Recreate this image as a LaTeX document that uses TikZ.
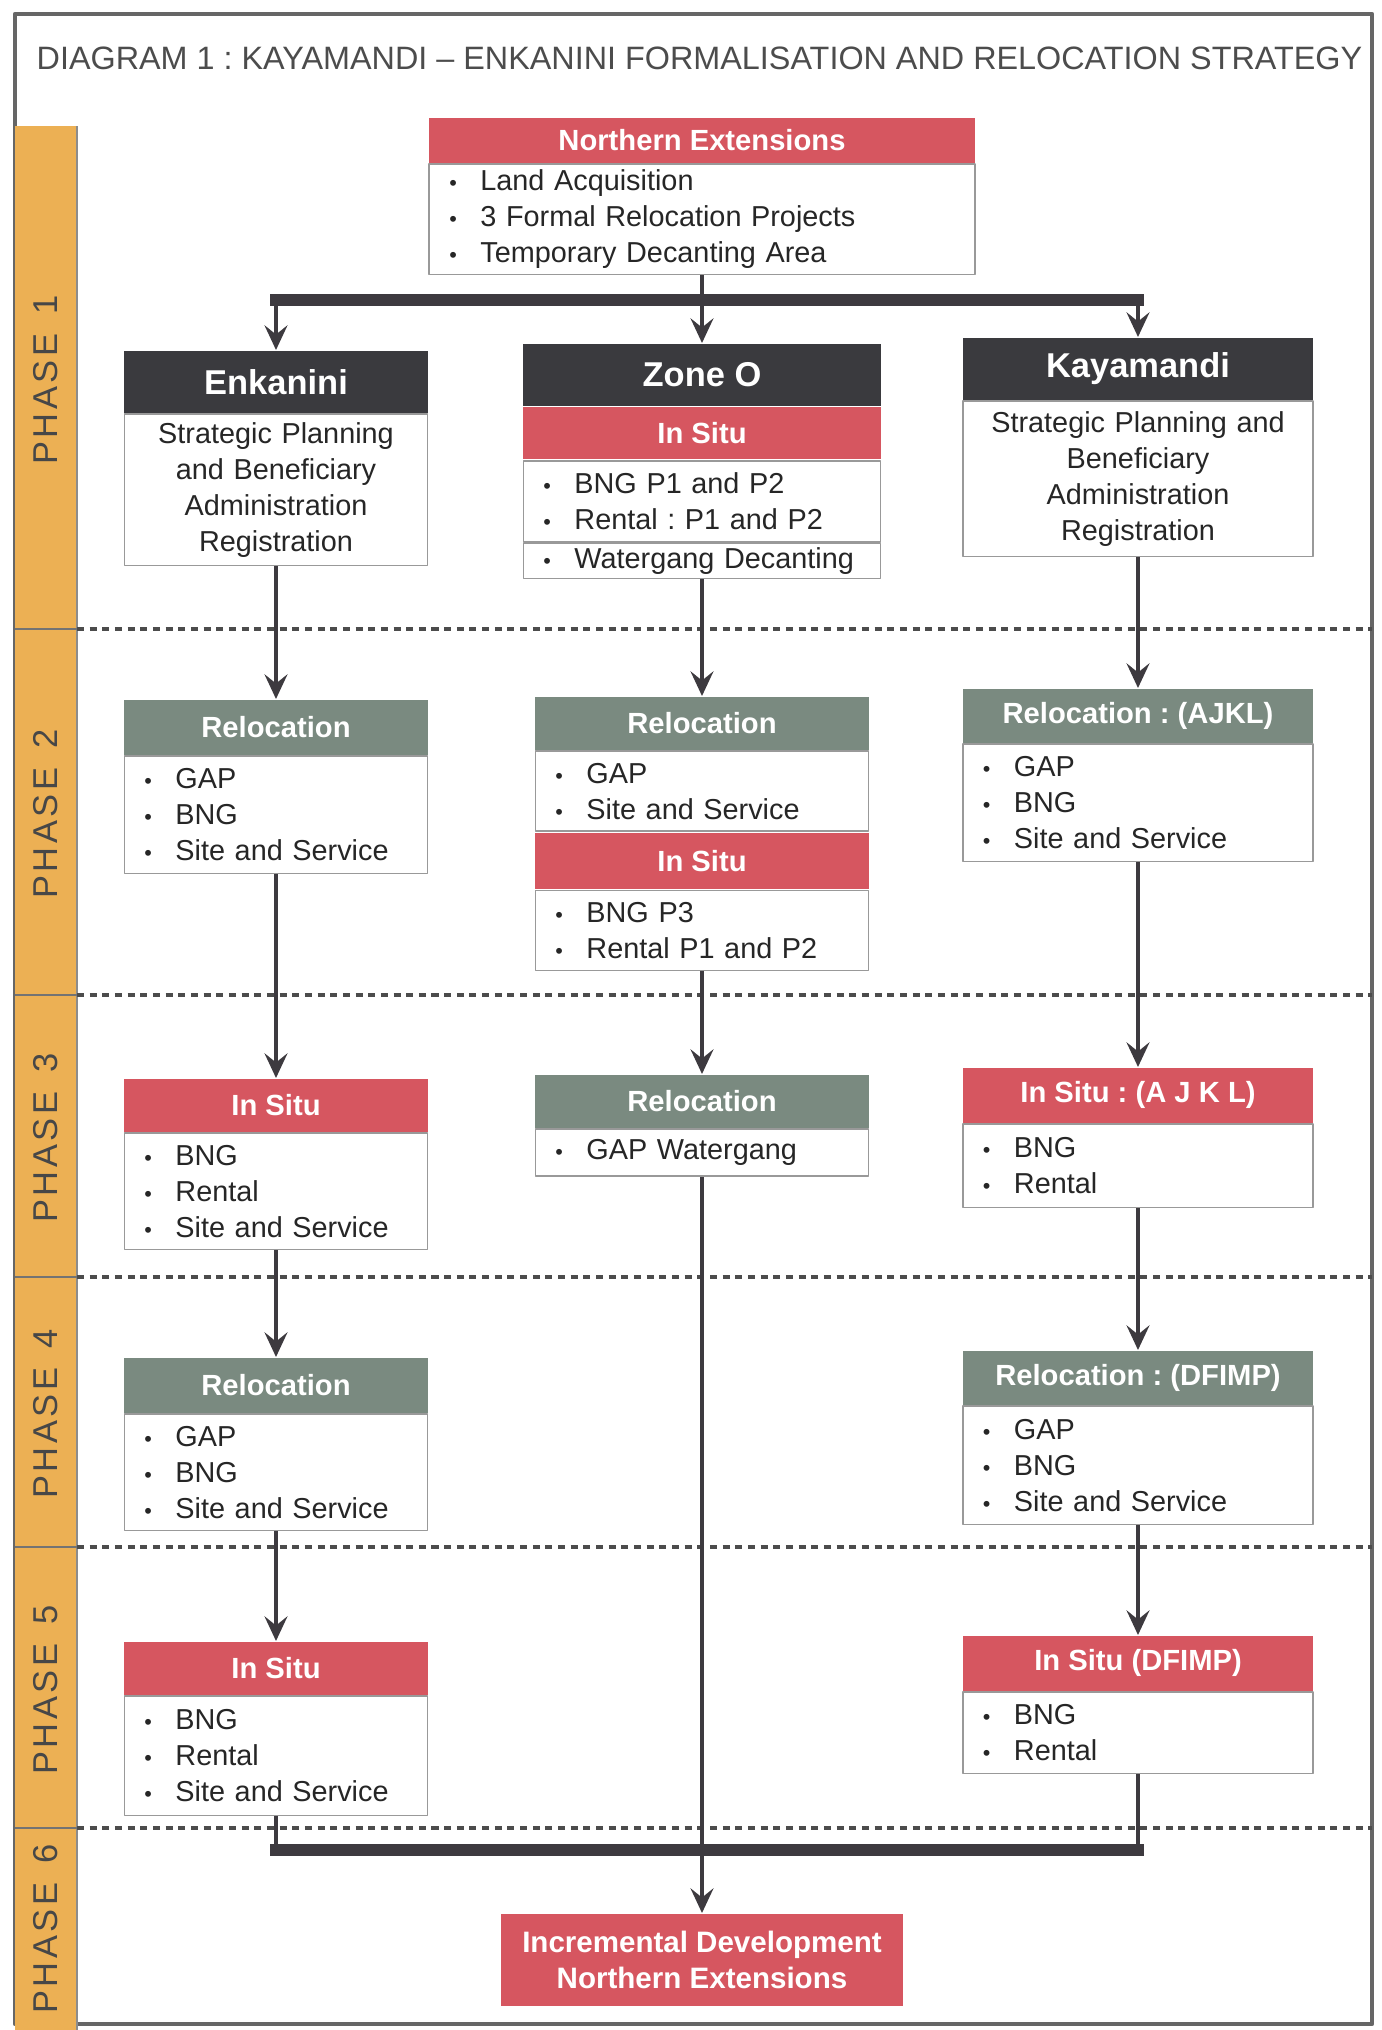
\documentclass[tikz,border=0pt]{standalone}
\usepackage{fontspec}
\setmainfont{Liberation Sans}
\usetikzlibrary{positioning,arrows.meta}
\definecolor{hdark}{RGB}{58,58,62}
\definecolor{hred}{RGB}{214,86,96}
\definecolor{hgreen}{RGB}{122,138,128}
\definecolor{strip}{RGB}{236,176,84}
\definecolor{ink}{RGB}{61,58,63}
\newcommand{\itm}[1]{\makebox[0.31cm][l]{\scalebox{0.75}{\textbullet}}#1}
\frenchspacing
\begin{document}
\begin{tikzpicture}[x=0.01cm, y=-0.01cm, line join=round, >={Stealth[length=7pt,width=6.5pt,inset=2.6pt]},
	hd/.style={inner sep=0pt, text=white, font=\bfseries\fontsize{8.3}{10}\selectfont, anchor=north},
	area/.style={hd, fill=hdark, font=\bfseries\fontsize{9.8}{12}\selectfont},
	insitu/.style={hd, fill=hred},
	reloc/.style={hd, fill=hgreen},
	lst/.style={draw=black!40, line width=0.5pt, fill=white, text=black!85, font=\fontsize{8.2}{10.2}\selectfont, align=left, inner xsep=0.2cm, inner ysep=0pt},
	ctr/.style={lst, align=center, inner xsep=0.1cm},
	arr/.style={draw=ink, line width=1.3pt, ->},
	lnk/.style={draw=ink, line width=1.3pt},
	bar/.style={draw=ink, line width=3.2pt, line cap=rect},
	sep/.style={draw=black!70, line width=0.9pt, dash pattern=on 2pt off 1.6pt}]
	\def\cE{276} \def\cZ{702} \def\cK{1138}
	\useasboundingbox (0,0) rectangle (1382,2030);
	% frame, phase strip and phase borders
	\draw[black!60, line width=1.3pt] (15,14) rectangle (1372,2024);
	\fill[strip] (15,126) rectangle (77,2030);
	\draw[black!45, line width=0.4pt] (77,126) -- (77,2030);
	\node[anchor=west, inner sep=0pt, text=black!70, font=\fontsize{9.2}{11}\selectfont] (title) at (36,58) {DIAGRAM 1 : KAYAMANDI -- ENKANINI FORMALISATION AND RELOCATION STRATEGY};
	\foreach \y in {629,995,1277,1547,1828}{
		\draw[black!55, line width=0.6pt] (15,\y) -- (77,\y);
		\draw[sep] (77,\y) -- (1372,\y);
	}
	\foreach \y/\n in {380/1,814/2,1138/3,1414/4,1690/5,1929/6}
		\node[rotate=90, text=black!72, font=\fontsize{9.8}{11}\selectfont] (ph\n) at (46,\y) {P\kern1pt H\kern1pt A\kern1pt S\kern1pt E\ \ \n};
	% phase 1
	\node[insitu, minimum width=5.45cm, minimum height=0.45cm] (neh) at (\cZ,117) {Northern Extensions};
	\node[lst, text width=5.05cm, minimum height=1.1cm, below=0pt of neh] (ne) {\itm{Land Acquisition}\\ \itm{3 Formal Relocation Projects}\\ \itm{Temporary Decanting Area}};
	\node[area, minimum width=3.03cm, minimum height=0.62cm] (e1h) at (\cE,350) {Enkanini};
	\node[ctr, text width=2.83cm, minimum height=1.51cm, below=0pt of e1h] (e1) {Strategic Planning\\ and Beneficiary\\ Administration\\ Registration};
	\node[area, minimum width=3.57cm, minimum height=0.62cm] (z1h) at (\cZ,343) {Zone O};
	\node[insitu, minimum width=3.57cm, minimum height=0.52cm, below=0pt of z1h] (z1r) {In Situ};
	\node[lst, text width=3.17cm, minimum height=0.81cm, below=0pt of z1r] (z1) {\itm{BNG P1 and P2}\\ \itm{Rental : P1 and P2}};
	\node[lst, text width=3.17cm, minimum height=0.35cm, below=0pt of z1] (z1w) {\itm{Watergang Decanting}};
	\node[area, minimum width=3.50cm, minimum height=0.62cm] (k1h) at (\cK,337) {Kayamandi};
	\node[ctr, text width=3.30cm, minimum height=1.55cm, below=0pt of k1h] (k1) {Strategic Planning and\\ Beneficiary\\ Administration\\ Registration};
	% phase 2
	\node[reloc, minimum width=3.03cm, minimum height=0.55cm] (e2h) at (\cE,699) {Relocation};
	\node[lst, text width=2.63cm, minimum height=1.17cm, below=0pt of e2h] (e2) {\itm{GAP}\\ \itm{BNG}\\ \itm{Site and Service}};
	\node[reloc, minimum width=3.33cm, minimum height=0.53cm] (z2h) at (\cZ,696) {Relocation};
	\node[lst, text width=2.93cm, minimum height=0.80cm, below=0pt of z2h] (z2) {\itm{GAP}\\ \itm{Site and Service}};
	\node[insitu, minimum width=3.33cm, minimum height=0.56cm, below=0pt of z2] (z2r) {In Situ};
	\node[lst, text width=2.93cm, minimum height=0.80cm, below=0pt of z2r] (z2b) {\itm{BNG P3}\\ \itm{Rental P1 and P2}};
	\node[reloc, minimum width=3.50cm, minimum height=0.54cm] (k2h) at (\cK,688) {Relocation : (AJKL)};
	\node[lst, text width=3.10cm, minimum height=1.17cm, below=0pt of k2h] (k2) {\itm{GAP}\\ \itm{BNG}\\ \itm{Site and Service}};
	% phase 3
	\node[insitu, minimum width=3.03cm, minimum height=0.53cm] (e3h) at (\cE,1078) {In Situ};
	\node[lst, text width=2.63cm, minimum height=1.16cm, below=0pt of e3h] (e3) {\itm{BNG}\\ \itm{Rental}\\ \itm{Site and Service}};
	\node[reloc, minimum width=3.33cm, minimum height=0.53cm] (z3h) at (\cZ,1074) {Relocation};
	\node[lst, text width=2.93cm, minimum height=0.47cm, below=0pt of z3h] (z3) {\itm{GAP Watergang}};
	\node[insitu, minimum width=3.50cm, minimum height=0.55cm] (k3h) at (\cK,1067) {In Situ : (A J K L)};
	\node[lst, text width=3.10cm, minimum height=0.83cm, below=0pt of k3h] (k3) {\itm{BNG}\\ \itm{Rental}};
	% phase 4
	\node[reloc, minimum width=3.03cm, minimum height=0.55cm] (e4h) at (\cE,1357) {Relocation};
	\node[lst, text width=2.63cm, minimum height=1.16cm, below=0pt of e4h] (e4) {\itm{GAP}\\ \itm{BNG}\\ \itm{Site and Service}};
	\node[reloc, minimum width=3.50cm, minimum height=0.54cm] (k4h) at (\cK,1350) {Relocation : (DFIMP)};
	\node[lst, text width=3.10cm, minimum height=1.18cm, below=0pt of k4h] (k4) {\itm{GAP}\\ \itm{BNG}\\ \itm{Site and Service}};
	% phase 5
	\node[insitu, minimum width=3.03cm, minimum height=0.53cm] (e5h) at (\cE,1641) {In Situ};
	\node[lst, text width=2.63cm, minimum height=1.19cm, below=0pt of e5h] (e5) {\itm{BNG}\\ \itm{Rental}\\ \itm{Site and Service}};
	\node[insitu, minimum width=3.50cm, minimum height=0.55cm] (k5h) at (\cK,1635) {In Situ (DFIMP)};
	\node[lst, text width=3.10cm, minimum height=0.81cm, below=0pt of k5h] (k5) {\itm{BNG}\\ \itm{Rental}};
	% phase 6
	\node[insitu, minimum width=4.01cm, minimum height=0.92cm, align=center, font=\bfseries\fontsize{8.4}{10.4}\selectfont] (inc) at (\cZ,1913) {Incremental Development\\ Northern Extensions};
	% connectors
	\coordinate (split) at (\cZ,300);
	\draw[bar] (e1h.north |- split) -- (k1h.north |- split);
	\draw[arr] (e1h.north |- split) -- (e1h.north);
	\draw[arr] (k1h.north |- split) -- (k1h.north);
	\draw[arr] (ne.south) -- (z1h.north);
	\draw[arr] (e1.south) -- (e2h.north);
	\draw[arr] (e2.south) -- (e3h.north);
	\draw[arr] (e3.south) -- (e4h.north);
	\draw[arr] (e4.south) -- (e5h.north);
	\draw[arr] (z1w.south) -- (z2h.north);
	\draw[arr] (z2b.south) -- (z3h.north);
	\draw[arr] (k1.south) -- (k2h.north);
	\draw[arr] (k2.south) -- (k3h.north);
	\draw[arr] (k3.south) -- (k4h.north);
	\draw[arr] (k4.south) -- (k5h.north);
	\coordinate (merge) at (\cZ,1850);
	\draw[lnk] (e5.south) -- (e5.south |- merge);
	\draw[lnk] (k5.south) -- (k5.south |- merge);
	\draw[bar] (e5.south |- merge) -- (k5.south |- merge);
	\draw[arr] (z3.south) -- (inc.north);
\end{tikzpicture}
\end{document}
